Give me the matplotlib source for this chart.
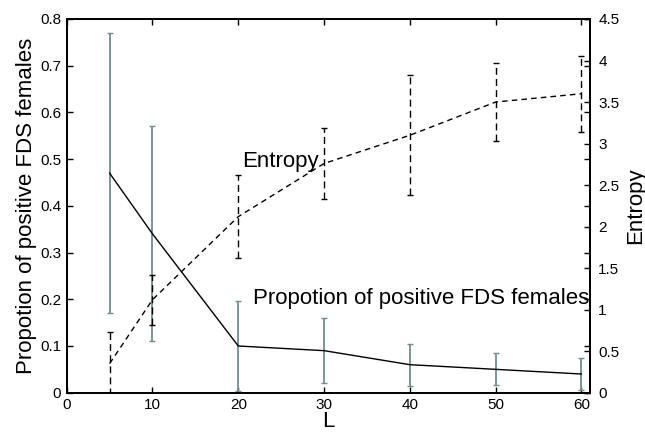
import matplotlib
matplotlib.use("Agg")
import matplotlib.pyplot as plt
import numpy as np

plt.rcParams['font.family'] = ['Liberation Sans', 'DejaVu Sans']

L = [5, 10, 20, 30, 40, 50, 60]
prop = [0.47, 0.34, 0.10, 0.09, 0.06, 0.05, 0.04]
prop_err = [0.30, 0.23, 0.097, 0.07, 0.045, 0.034, 0.035]
entropy = [0.35, 1.12, 2.12, 2.76, 3.10, 3.50, 3.60]
entropy_err = [0.38, 0.30, 0.50, 0.43, 0.72, 0.47, 0.46]

fig = plt.figure(figsize=(6.45, 4.34), dpi=100)
ax1 = fig.add_axes([66.7/645, 1 - 392.7/434, (590 - 66.7)/645, (392.7 - 19)/434])
ax2 = ax1.twinx()

ax1.plot(L, prop, color='black', lw=1.0, zorder=3)
ax1.errorbar(L, prop, yerr=prop_err, fmt='none', ecolor='#6f8e8e', elinewidth=1.3,
             capsize=2, capthick=1.0, zorder=2)

ax2.plot(L, entropy, color='black', lw=1.0, ls=(0, (4, 3)))
eb = ax2.errorbar(L, entropy, yerr=entropy_err, fmt='none', ecolor='black', elinewidth=1.0,
                  capsize=2, capthick=1.0)
for lc in eb[2]:
    lc.set_linestyle((0, (5, 3)))

ax1.set_xlim(0, 61)
ax1.set_ylim(0, 0.8)
ax2.set_ylim(0, 4.5)
ax1.set_xticks([0, 10, 20, 30, 40, 50, 60])
ax1.set_yticks(np.arange(0, 0.81, 0.1))
ax1.set_yticklabels(['0', '0.1', '0.2', '0.3', '0.4', '0.5', '0.6', '0.7', '0.8'])
ax2.set_yticks(np.arange(0, 4.51, 0.5))
ax2.set_yticklabels(['0', '0.5', '1', '1.5', '2', '2.5', '3', '3.5', '4', '4.5'])

ax1.tick_params(direction='in', top=True, right=True, labelright=False, labelsize=11,
                length=4, width=1, pad=4)
ax2.tick_params(direction='in', labelsize=11, length=4, width=1, pad=6)
for ax in (ax1, ax2):
    for s in ax.spines.values():
        s.set_linewidth(1.3)

ax1.set_xlabel('L', fontsize=16, labelpad=-1)
ax1.set_ylabel('Propotion of positive FDS females', fontsize=16, labelpad=2)
ax2.set_ylabel('Entropy', fontsize=16, labelpad=4)

ax1.text(20.4, 0.484, 'Entropy', fontsize=16, ha='left', va='baseline')
ax1.text(60.9, 0.189, 'Propotion of positive FDS females', fontsize=16, ha='right', va='baseline')

fig.savefig('out.png', dpi=100)
